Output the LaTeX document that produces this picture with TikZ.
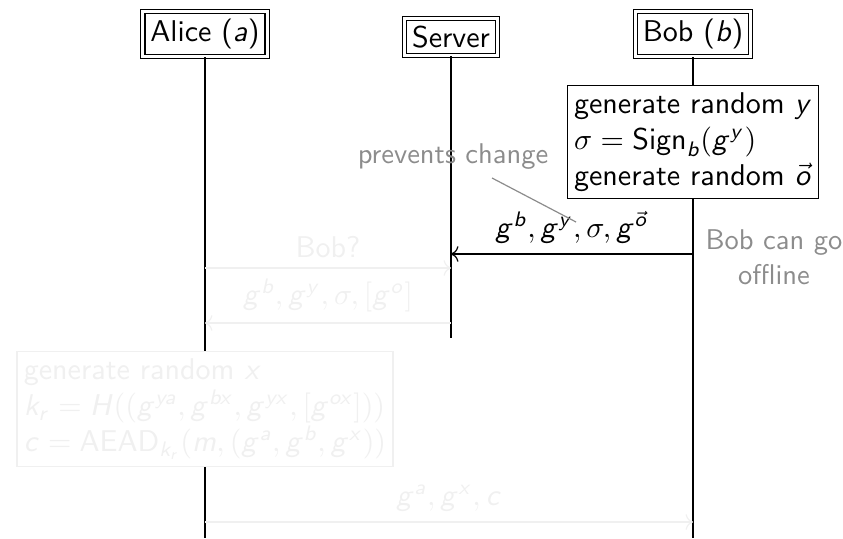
\documentclass[tikz,border=0pt]{standalone}
\usepackage{amsmath}
\usepackage{tikz}
\usetikzlibrary{positioning}
\usetikzlibrary{arrows.meta}

% sans slanted letters in math
\DeclareSymbolFont{sfletters}{OT1}{cmss}{m}{sl}
\DeclareMathSymbol{a}{\mathalpha}{sfletters}{`a}
\DeclareMathSymbol{b}{\mathalpha}{sfletters}{`b}
\DeclareMathSymbol{c}{\mathalpha}{sfletters}{`c}
\DeclareMathSymbol{g}{\mathalpha}{sfletters}{`g}
\DeclareMathSymbol{k}{\mathalpha}{sfletters}{`k}
\DeclareMathSymbol{m}{\mathalpha}{sfletters}{`m}
\DeclareMathSymbol{o}{\mathalpha}{sfletters}{`o}
\DeclareMathSymbol{r}{\mathalpha}{sfletters}{`r}
\DeclareMathSymbol{x}{\mathalpha}{sfletters}{`x}
\DeclareMathSymbol{y}{\mathalpha}{sfletters}{`y}
\DeclareMathSymbol{H}{\mathalpha}{sfletters}{`H}

\begin{document}
\begin{tikzpicture}[
			x=0.0117cm, y=-0.0117cm,
			font=\sffamily,
			actor/.style  = {draw, double, double distance=1pt, inner sep=2.5pt},
			action/.style = {draw, fill=white, align=left, inner sep=2.3pt},
			msg/.style    = {->},
			faint/.style  = {draw=black!6, text=black!6},
			remark/.style = {black!45, font=\sffamily\fontsize{9.5}{11.5}\selectfont}
			]
			\useasboundingbox (0,0) rectangle (843,538);

			% actors
			\node[actor] (alice) at (205,34) {Alice ($a$)};
			\node[actor] (server) at (451,37) {Server};
			\node[actor] (bob) at (693,34) {Bob ($b$)};

			% lifelines
			\coordinate (alice-end) at (205,538);
			\coordinate (server-end) at (451,338);
			\coordinate (bob-end) at (693,538);
			\foreach \p in {alice, server, bob}
			\draw (\p.south) -- (\p-end);

			% message anchors on the lifelines
			\foreach \i/\y in {1/254, 2/268, 3/323, 4/522} {
					\coordinate (a\i) at (205,\y);
					\coordinate (s\i) at (451,\y);
					\coordinate (b\i) at (693,\y);
				}

			% bob registers
			\node[action] (bobgen) at (693,142) {generate random $y$\\
				$\sigma = \mathsf{Sign}_b(g^y)$\\
				generate random $\vec{o}$};
			\draw[msg] (b1) -- node[above] (m1) {$g^b, g^y, \sigma, g^{\vec{o}}$} (s1);

			\node[remark] (prevents) at (453,157) {prevents change};
			\coordinate (pc) at (492,178);
			\coordinate (gy) at (576,222);
			\draw[remark] (pc) -- (gy);

			\node[remark, align=center] (offline) at (774,257) {Bob can go\\offline};

			% alice fetches bob
			\draw[msg, faint] (a2) -- node[above] (m2) {Bob?} (s2);
			\draw[msg, faint] (s3) -- node[above] (m3) {$g^b, g^y, \sigma, [g^o]$} (a3);

			\node[action, faint] (alicegen) at (205,409) {generate random $x$\\
				$k_r = H((g^{ya}, g^{bx}, g^{yx}, [g^{ox}]))$\\
				$c = \mathsf{AEAD}_{k_r}(m, (g^a, g^b, g^x))$};

			\draw[msg, faint] (a4) -- node[above] (m4) {$g^a, g^x, c$} (b4);
		\end{tikzpicture}
\end{document}
